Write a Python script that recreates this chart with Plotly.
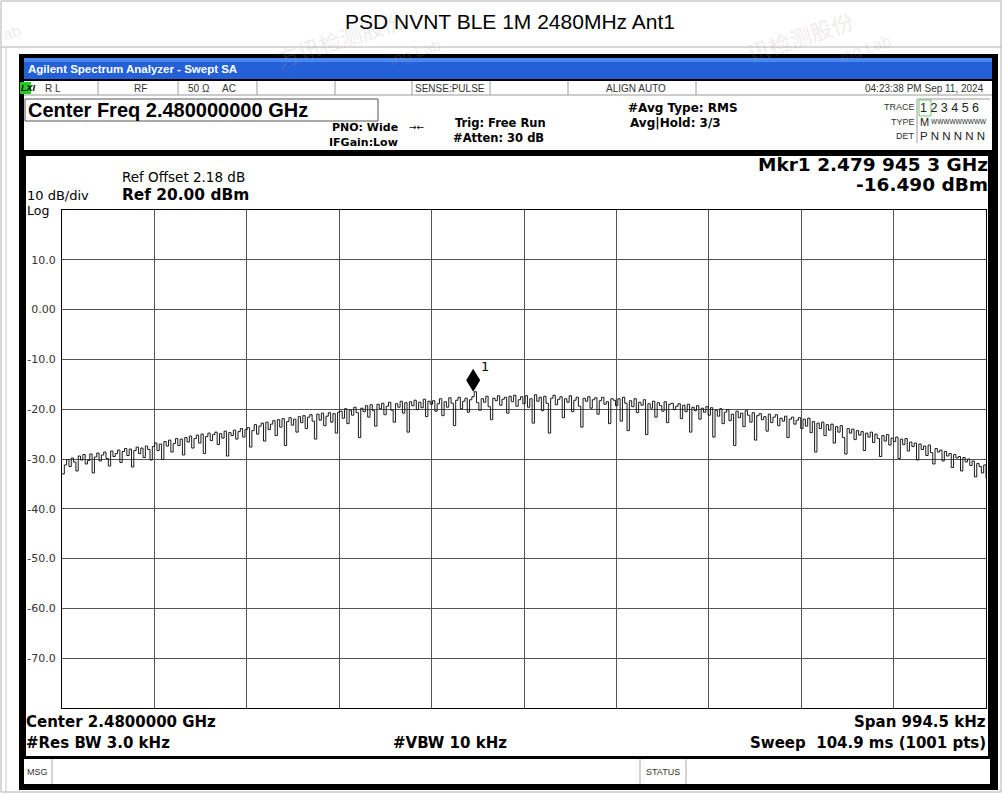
import numpy as np
import plotly.graph_objects as go

# ---------------- data ----------------
center_ghz = 2.48
span_khz = 994.5
ref_level_dbm = 20.0
bottom_dbm = -80.0
n_div_x = 10

level_dbm = [
    # div 0
    -33.0, -31.2, -30.1, -31.5, -29.8, -30.6, -32.4, -29.4, -30.2, -29.1, -31.0, -30.3, -29.0, -32.8, -29.6, -28.8, -30.4, -29.2, -28.6, -29.9,
    -31.4, -28.4, -29.5, -28.9, -28.2, -30.7, -28.5, -27.9, -29.3, -28.0, -31.6, -28.3, -27.6, -28.9, -27.8, -29.7, -27.4, -28.1, -30.2, -27.5,
    # div 1
    -26.8, -28.3, -27.0, -30.1, -26.5, -27.4, -26.2, -28.6, -26.9, -25.9, -27.3, -26.0, -29.2, -25.7, -26.6, -25.4, -27.8, -25.9, -25.2, -26.8,
    -25.0, -28.9, -25.5, -24.8, -26.3, -25.1, -24.6, -27.1, -24.9, -25.8, -24.4, -29.4, -24.7, -25.3, -24.2, -26.0, -24.5, -23.9, -25.6, -24.1,
    # div 2
    -23.7, -27.6, -24.3, -23.1, -25.0, -23.4, -22.8, -26.4, -22.6, -24.1, -23.0, -22.3, -25.3, -22.1, -23.6, -21.9, -27.3, -22.5, -21.7, -23.2,
    -22.0, -24.6, -21.5, -22.7, -21.3, -23.9, -21.6, -21.1, -22.4, -26.0, -21.0, -22.2, -20.8, -23.3, -21.4, -20.7, -22.6, -20.9, -24.8, -20.6,
    # div 3
    -20.4, -21.8, -19.9, -22.9, -20.2, -21.2, -19.6, -20.7, -25.7, -19.8, -20.5, -19.3, -21.6, -19.1, -20.3, -23.4, -19.0, -19.9, -18.8, -21.1,
    -19.4, -18.6, -20.2, -22.6, -18.9, -19.6, -18.4, -20.8, -18.7, -24.6, -18.5, -19.3, -18.2, -20.1, -18.6, -19.7, -18.0, -21.5, -18.4, -19.0,
    # div 4
    -18.3, -20.4, -18.9, -17.9, -21.3, -18.5, -19.6, -17.7, -18.8, -23.3, -18.2, -17.6, -19.9, -18.4, -17.8, -20.6, -18.1, -17.5, -16.49, -18.7,
    -20.2, -17.9, -18.6, -17.4, -19.5, -22.1, -17.8, -18.3, -17.3, -19.2, -18.0, -17.6, -20.8, -17.4, -18.5, -17.2, -19.4, -18.1, -17.5, -18.9,
    # div 5
    -17.3, -19.6, -17.9, -22.8, -17.1, -18.4, -17.6, -20.3, -17.4, -18.8, -24.8, -17.8, -17.2, -19.1, -18.0, -17.5, -21.7, -17.9, -18.6, -17.3,
    -20.5, -18.2, -17.6, -19.4, -23.6, -17.8, -18.4, -17.5, -19.8, -18.1, -17.7, -21.0, -18.3, -17.6, -19.0, -18.5, -22.9, -17.9, -18.2, -19.3,
    # div 6
    -17.9, -22.4, -17.6, -18.8, -24.3, -18.3, -19.5, -17.9, -20.7, -18.6, -19.2, -18.1, -25.1, -18.9, -19.8, -18.4, -21.6, -18.7, -19.3, -20.4,
    -18.5, -22.7, -19.0, -18.8, -20.1, -19.4, -18.9, -21.9, -19.2, -20.5, -19.0, -24.6, -19.6, -20.3, -19.3, -22.0, -19.8, -20.6, -19.5, -21.2,
    # div 7
    -19.7, -25.6, -20.2, -21.4, -19.9, -22.9, -20.6, -20.1, -22.3, -21.0, -27.3, -20.4, -21.7, -20.8, -23.5, -20.3, -21.2, -22.6, -20.7, -26.2,
    -21.3, -20.9, -22.1, -21.5, -24.4, -21.0, -22.7, -21.6, -21.1, -23.3, -21.8, -22.4, -21.4, -25.7, -22.0, -21.6, -23.0, -22.2, -21.7, -23.9,
    # div 8
    -22.0, -23.4, -21.8, -24.7, -22.5, -28.6, -22.8, -23.9, -22.6, -25.3, -23.1, -24.2, -23.0, -26.8, -23.5, -24.6, -23.3, -25.7, -29.0, -23.9,
    -24.8, -24.0, -26.1, -24.3, -25.2, -24.5, -28.3, -24.8, -25.6, -24.6, -26.7, -25.0, -25.9, -29.5, -25.3, -26.4, -25.1, -27.2, -25.8, -26.5,
    # div 9
    -25.6, -29.9, -26.0, -27.1, -25.9, -28.4, -26.6, -27.5, -26.8, -30.2, -27.0, -28.1, -27.4, -29.3, -27.2, -28.7, -31.0, -27.9, -28.6, -28.2,
    -30.4, -28.5, -29.4, -28.9, -31.7, -29.1, -29.8, -29.5, -32.4, -29.7, -30.6, -30.0, -31.3, -30.4, -33.6, -30.9, -31.5, -32.8, -31.2, -33.9,
]

y_tick_vals = [10, 0, -10, -20, -30, -40, -50, -60, -70]
y_tick_text = ["10.0", "0.00", "-10.0", "-20.0", "-30.0", "-40.0", "-50.0", "-60.0", "-70.0"]

mkr_freq_ghz = 2.4799453
mkr_level_dbm = -16.490

# ---------------- figure ----------------
W, H = 1003, 794
span_ghz = span_khz / 1e6
f_start = center_ghz - span_ghz / 2
f_stop = center_ghz + span_ghz / 2
freq_ghz = np.linspace(f_start, f_stop, len(level_dbm))

shapes = []
annotations = []


def rect(x0, y0, x1, y1, fill, line=None, lw=0, layer="below"):
    shapes.append(dict(type="rect", xref="paper", yref="paper",
                       x0=x0 / W, x1=x1 / W, y0=1 - y1 / H, y1=1 - y0 / H,
                       fillcolor=fill, line=dict(color=line or fill, width=lw), layer=layer))


def hline(x0, x1, y, color, lw=1, layer="below"):
    shapes.append(dict(type="line", xref="paper", yref="paper",
                       x0=x0 / W, x1=x1 / W, y0=1 - y / H, y1=1 - y / H,
                       line=dict(color=color, width=lw), layer=layer))


def vline(x, y0, y1, color, lw=1, layer="below"):
    shapes.append(dict(type="line", xref="paper", yref="paper",
                       x0=x / W, x1=x / W, y0=1 - y0 / H, y1=1 - y1 / H,
                       line=dict(color=color, width=lw), layer=layer))


def txt(x, y, s, size, family="DejaVu Sans", bold=False, color="#000", anchor="left", angle=0):
    annotations.append(dict(xref="paper", yref="paper", x=x / W, y=1 - y / H,
                            text=("<b>" + s + "</b>") if bold else s, showarrow=False,
                            xanchor=anchor, yanchor="middle", borderpad=0, borderwidth=0,
                            textangle=angle,
                            font=dict(size=size, family=family, color=color)))


# page frame
rect(1, 1, 1001, 792, "#ffffff", line="#b0b0b0", lw=1)
hline(1, 1001, 47, "#b0b0b0")
vline(6, 47, 792, "#c8c8c8")
# instrument black frame
rect(19, 54, 998, 790, "#000000")
# blue title bar
rect(24, 58, 992, 79, "#2461d8")
rect(24, 58, 992, 62, "#4a88ee")
# status row + info area
rect(24, 81, 992, 150, "#ffffff")
hline(24, 992, 95, "#9a9a9a")
for xd in [98, 178, 257, 335, 412, 490, 568, 696]:
    vline(xd, 81, 95, "#9a9a9a")
rect(20, 82, 31, 94, "#22cc22")
# center freq box
rect(25, 99, 378, 121, "#ffffff", line="#555555", lw=1)
# trace table lines
hline(917, 990, 99, "#9a9a9a")
vline(917, 99, 143, "#9a9a9a")
rect(919, 100, 931, 116, "#ffffff", line="#66cc66", lw=1)
# plot panel
rect(26, 156, 988, 756, "#ffffff")
# msg bar
rect(24, 759, 990, 784, "#ffffff")
vline(52, 759, 784, "#aaaaaa")
vline(640, 759, 784, "#aaaaaa")
vline(686, 759, 784, "#aaaaaa")

# marker diamond (pixel-sized shape anchored at marker data point)
shapes.append(dict(type="path", xref="x", yref="y", xsizemode="pixel", ysizemode="pixel",
                   xanchor=mkr_freq_ghz, yanchor=mkr_level_dbm,
                   path="M0,0 L7,11.5 L0,23 L-7,11.5 Z",
                   fillcolor="#000000", line=dict(color="#000000", width=0), layer="above"))
annotations.append(dict(x=mkr_freq_ghz, y=mkr_level_dbm, xref="x", yref="y", text="1",
                        showarrow=False, xshift=12, yshift=25, borderpad=0,
                        font=dict(size=13, family="DejaVu Sans", color="#000")))

# faint watermarks
wm = "rgba(170,150,150,0.20)"
txt(340, 38, "方讯检测股份", 22, family="Noto Sans CJK SC", color=wm, angle=-18, anchor="center")
txt(415, 52, "ing Lab", 16, family="Liberation Sans", color=wm, angle=-18, anchor="center")
txt(800, 36, "讯检测股份", 22, family="Noto Sans CJK SC", color=wm, angle=-18, anchor="center")
txt(865, 48, "ing Lab", 16, family="Liberation Sans", color=wm, angle=-18, anchor="center")
txt(12, 33, "ab", 16, family="Liberation Sans", color=wm, angle=-18, anchor="center")

# texts
txt(510, 22, "PSD NVNT BLE 1M 2480MHz Ant1", 21, family="Liberation Sans", anchor="center")
txt(28, 69, "Agilent Spectrum Analyzer - Swept SA", 11.5, family="Liberation Sans", bold=True, color="#ffffff")
txt(21, 88, "<i>LXI</i>", 9, family="Liberation Sans", bold=True, color="#000")
txt(45, 88, "R L", 10, family="Liberation Sans", color="#333")
txt(140, 88, "RF", 10, family="Liberation Sans", color="#333", anchor="center")
txt(188, 88, "50 Ω", 10, family="Liberation Sans", color="#333")
txt(222, 88, "AC", 10, family="Liberation Sans", color="#333")
txt(450, 88, "SENSE:PULSE", 10, family="Liberation Sans", color="#333", anchor="center")
txt(636, 88, "ALIGN AUTO", 10, family="Liberation Sans", color="#333", anchor="center")
txt(984, 88, "04:23:38 PM Sep 11, 2024", 10, family="Liberation Sans", color="#333", anchor="right")
txt(28, 110, "Center Freq 2.480000000 GHz", 20, family="Liberation Sans", bold=True)
txt(398, 128, "PNO: Wide", 11, bold=True, anchor="right")
txt(398, 143, "IFGain:Low", 11, bold=True, anchor="right")
txt(417, 127, "→←", 9, anchor="center")
txt(455, 123, "Trig: Free Run", 11.5, bold=True)
txt(453, 138, "#Atten: 30 dB", 11.5, bold=True)
txt(628, 108, "#Avg Type: RMS", 12, bold=True)
txt(630, 123, "Avg|Hold: 3/3", 12, bold=True)
txt(915, 107, "TRACE", 9, family="Liberation Sans", color="#333", anchor="right")
txt(915, 122, "TYPE", 9, family="Liberation Sans", color="#333", anchor="right")
txt(915, 136, "DET", 9, family="Liberation Sans", color="#333", anchor="right")
txt(920, 108, "1 2 3 4 5 6", 12.5, family="Liberation Sans", color="#222")
txt(920, 122, "M", 11, family="Liberation Sans", color="#222")
txt(931, 121, "WWWWWWWWW", 6.5, family="Liberation Sans", color="#222")
txt(920, 136, "P N N N N N", 11.5, family="Liberation Sans", color="#222")

txt(122, 177, "Ref Offset 2.18 dB", 13.5)
txt(122, 195, "Ref 20.00 dBm", 15.4, bold=True)
txt(27, 195, "10 dB/div", 13)
txt(27, 210, "Log", 12.5)
txt(988, 165, "Mkr1 2.479 945 3 GHz", 18.5, bold=True, anchor="right")
txt(988, 184, "-16.490 dBm", 18.5, bold=True, anchor="right")

txt(26, 722, "Center 2.4800000 GHz", 15, bold=True)
txt(26, 743, "#Res BW 3.0 kHz", 15, bold=True)
txt(393, 743, "#VBW 10 kHz", 15, bold=True)
txt(986, 722, "Span 994.5 kHz", 15, bold=True, anchor="right")
txt(986, 743, "Sweep  104.9 ms (1001 pts)", 15, bold=True, anchor="right")
txt(27, 772, "MSG", 9, family="Liberation Sans", color="#333")
txt(663, 772, "STATUS", 9, family="Liberation Sans", color="#333", anchor="center")

fig = go.Figure()
fig.add_trace(go.Scatter(x=freq_ghz, y=level_dbm, mode="lines",
                         line=dict(color="#1a1a1a", width=1, shape="hv"),
                         hoverinfo="skip", showlegend=False))

gx0, gx1, gy0, gy1 = 62, 986, 210, 708
fig.update_layout(
    width=W, height=H,
    margin=dict(l=0, r=0, t=0, b=0),
    paper_bgcolor="#ffffff",
    plot_bgcolor="rgba(0,0,0,0)",
    showlegend=False,
    shapes=shapes,
    annotations=annotations,
    xaxis=dict(domain=[gx0 / W, gx1 / W], range=[f_start, f_stop],
               tick0=f_start, dtick=span_ghz / n_div_x, showticklabels=False,
               showgrid=True, gridcolor="#555555", gridwidth=1, zeroline=False,
               showline=True, mirror=True, linecolor="#000000", linewidth=1,
               fixedrange=True),
    yaxis=dict(domain=[1 - gy1 / H, 1 - gy0 / H], range=[bottom_dbm, ref_level_dbm],
               tickmode="array", tickvals=y_tick_vals, ticktext=y_tick_text,
               showgrid=True, gridcolor="#555555", gridwidth=1, zeroline=False,
               showline=True, mirror=True, linecolor="#000000", linewidth=1,
               ticks="", ticklabelstandoff=3,
               tickfont=dict(family="DejaVu Sans", size=11, color="#333333"),
               fixedrange=True),
)

fig.write_html("out.html", config={"displayModeBar": False},
               post_script="document.body.style.margin='0px';")
